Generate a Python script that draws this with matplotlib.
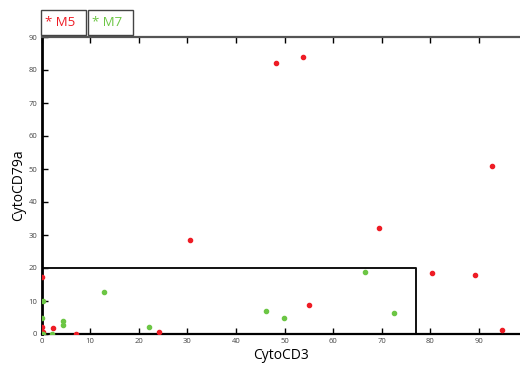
import matplotlib
matplotlib.use('Agg')
import matplotlib.pyplot as plt
from matplotlib.patches import Rectangle

plt.rcParams['font.family'] = ['Open Sans', 'DejaVu Sans']

# M5 (red) and M7 (green) points
m5_x = [53.8, 48.3, 92.7, 69.4, 30.6, 80.4, 89.2, 55.0, 94.8, 0.1, 24.2, 7.2, 2.4, 0.2, 0.3]
m5_y = [83.9, 82.1, 50.9, 32.1, 28.4, 18.5, 17.9, 8.9, 1.2, 17.2, 0.5, 0.1, 1.8, 2.2, 0.7]
m7_x = [0.4, 0.2, 12.9, 4.5, 4.4, 22.2, 2.2, 0.1, 0.4, 46.1, 49.8, 72.6, 66.6]
m7_y = [10.0, 4.9, 12.7, 3.9, 2.7, 2.0, 0.1, 0.1, 0.1, 6.9, 4.9, 6.3, 18.8]

gate_x = [0, 77.1, 77.1]
gate_y = [20, 20, 0]

xticks = [0, 10, 20, 30, 40, 50, 60, 70, 80, 90]
yticks = [0, 10, 20, 30, 40, 50, 60, 70, 80, 90]

red = '#ee1c25'
green = '#6cc644'

fig = plt.figure(figsize=(5.2, 3.65), dpi=100)
ax = fig.add_axes([41.5/520, 31/365, (520-41.5)/520, (334-37)/365])

ax.plot(m5_x, m5_y, 'o', color=red, ms=3.0, mec=red, zorder=3)
ax.plot(m7_x, m7_y, 'o', color=green, ms=3.0, mec=green, zorder=3)
ax.plot(gate_x, gate_y, '-', color='#111111', lw=1.4, zorder=2)

ax.set_xlim(0, (520-41.5)/4.86)
ax.set_ylim(0, 90)
ax.set_xticks(xticks)
ax.set_yticks(yticks)
ax.tick_params(direction='in', length=4, width=1, labelsize=5.5, labelcolor='#444444',
               top=True, pad=3)
ax.spines['right'].set_visible(False)
ax.spines['left'].set_linewidth(2)
ax.spines['bottom'].set_linewidth(1.6)
ax.spines['top'].set_linewidth(1.6)
ax.spines['top'].set_color('#555555')
ax.set_xlabel('CytoCD3', fontsize=10, labelpad=2)
ax.set_ylabel('CytoCD79a', fontsize=10, labelpad=2)

# legend boxes above the plot
for x0, lbl, c in [(41, 'M5', red), (88, 'M7', green)]:
    fig.patches.append(Rectangle((x0/520, (365-35)/365), 45/520, 25/365,
                                 transform=fig.transFigure, fill=False,
                                 edgecolor='#444444', lw=1))
    fig.text((x0+4)/520, (365-22)/365, '* ' + lbl, color=c, fontsize=9.5, va='center')

fig.savefig('out.png', dpi=100)
